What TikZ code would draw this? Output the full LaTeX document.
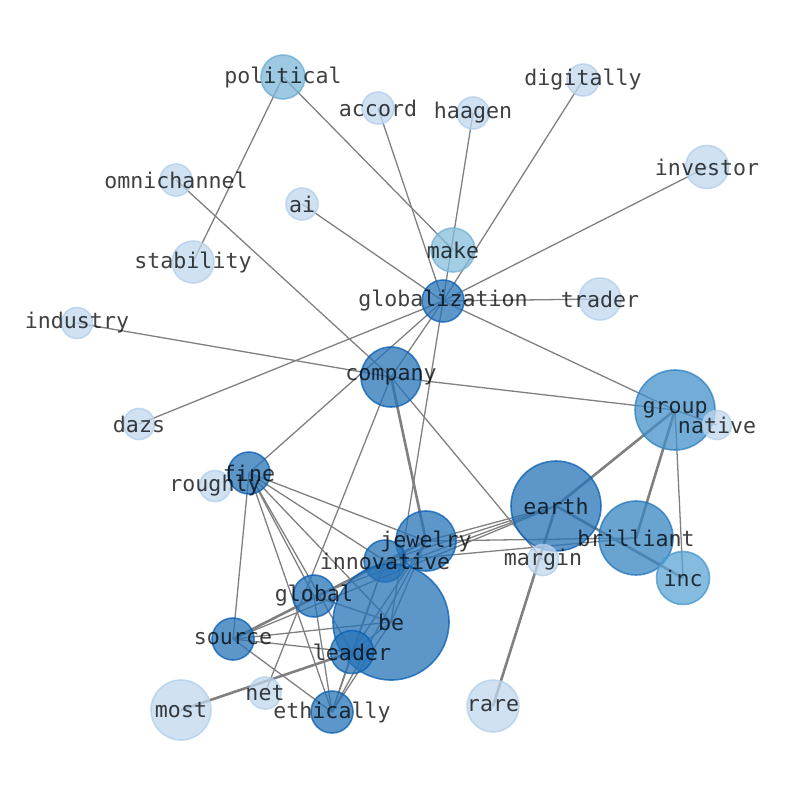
\documentclass[tikz,border=0pt]{standalone}
\usepackage{fontspec}
\newfontfamily\lblfont{DejaVu Sans Mono}
\definecolor{cA}{RGB}{39,115,183}
\definecolor{cAd}{RGB}{10,95,178}
\definecolor{cG}{RGB}{68,144,200}
\definecolor{cGd}{RGB}{45,128,195}
\definecolor{cB}{RGB}{55,133,194}
\definecolor{cBd}{RGB}{35,118,190}
\definecolor{cI}{RGB}{91,164,212}
\definecolor{cId}{RGB}{70,150,205}
\definecolor{cM}{RGB}{132,190,219}
\definecolor{cMd}{RGB}{115,178,214}
\definecolor{cP}{RGB}{124,184,216}
\definecolor{cPd}{RGB}{105,172,212}
\definecolor{cL}{RGB}{192,216,238}
\definecolor{cLd}{RGB}{178,206,234}
\definecolor{edgegray}{RGB}{128,128,128}
\begin{document}
\begin{tikzpicture}[x=1pt,y=-1pt,
  bub/.style={circle, inner sep=0pt, minimum size=#1, line width=1.6pt, opacity=0.75},
  dk/.style={fill=cA, draw=cAd},
  gr/.style={fill=cG, draw=cGd},
  br/.style={fill=cB, draw=cBd},
  ic/.style={fill=cI, draw=cId},
  mk/.style={fill=cM, draw=cMd},
  po/.style={fill=cP, draw=cPd},
  lt/.style={fill=cL, draw=cLd},
  lbl/.style={font=\lblfont\fontsize{21.6}{24}\selectfont, text=black, text opacity=0.75, inner sep=0pt},
  edge/.style={draw=edgegray, line width=1.3pt},
  thick edge/.style={draw=edgegray, line width=2.6pt}
]
\useasboundingbox (0,0) rectangle (794,790);
% coordinates
\coordinate (political) at (283,77);
\coordinate (accord) at (378,108);
\coordinate (haagen) at (473,113);
\coordinate (digitally) at (583,80);
\coordinate (investor) at (707,167);
\coordinate (omnichannel) at (176,180);
\coordinate (ai) at (302,204);
\coordinate (stability) at (193,262);
\coordinate (make) at (453,250);
\coordinate (glob) at (443,301);
\coordinate (trader) at (600,299);
\coordinate (industry) at (77,323);
\coordinate (company) at (391,377);
\coordinate (dazs) at (139,424);
\coordinate (group) at (675,410);
\coordinate (native) at (717,425);
\coordinate (fine) at (249,473);
\coordinate (roughly) at (215,486);
\coordinate (earth) at (556,506);
\coordinate (brilliant) at (636,538);
\coordinate (jewelry) at (426,541);
\coordinate (innovative) at (385,561);
\coordinate (margin) at (543,560);
\coordinate (inc) at (683,578);
\coordinate (global) at (314,596);
\coordinate (be) at (391,622);
\coordinate (source) at (233,639);
\coordinate (leader) at (352,652);
\coordinate (net) at (265,693);
\coordinate (most) at (181,710);
\coordinate (rare) at (493,706);
\coordinate (ethically) at (332,712);
% edges
\foreach \a/\b in {political/stability, political/make, accord/glob, haagen/glob,
  digitally/glob, investor/glob, ai/glob, trader/glob, dazs/glob, fine/glob,
  glob/be, glob/group, glob/company, omnichannel/company, industry/company,
  company/group, company/margin, net/company, group/inc, group/native,
  brilliant/jewelry, brilliant/innovative,
  fine/source, fine/ethically, fine/global, fine/leader, fine/be, fine/jewelry, fine/innovative,
  source/earth, source/be, source/leader, source/ethically,
  global/be, global/earth, global/ethically,
  leader/be, leader/innovative, leader/jewelry, leader/ethically,
  ethically/be, ethically/innovative, ethically/jewelry,
  innovative/earth, innovative/jewelry, jewelry/earth, be/jewelry}
  \draw[edge] (\a) -- (\b);
\foreach \a/\b in {group/earth, group/brilliant, earth/inc, earth/rare,
  company/jewelry, source/jewelry, most/leader}
  \draw[thick edge] (\a) -- (\b);
% bubbles
\node[bub=44, po] (political-c) at (political) {};
\node[bub=32, lt] (accord-c) at (accord) {};
\node[bub=32, lt] (haagen-c) at (haagen) {};
\node[bub=32, lt] (digitally-c) at (digitally) {};
\node[bub=43, lt] (investor-c) at (investor) {};
\node[bub=32, lt] (omnichannel-c) at (omnichannel) {};
\node[bub=32, lt] (ai-c) at (ai) {};
\node[bub=42, lt] (stability-c) at (stability) {};
\node[bub=44, mk] (make-c) at (make) {};
\node[bub=42, dk] (glob-c) at (glob) {};
\node[bub=42, lt] (trader-c) at (trader) {};
\node[bub=31, lt] (industry-c) at (industry) {};
\node[bub=60, dk] (company-c) at (company) {};
\node[bub=31, lt] (dazs-c) at (dazs) {};
\node[bub=80, gr] (group-c) at (group) {};
\node[bub=29, lt] (native-c) at (native) {};
\node[bub=31, lt] (roughly-c) at (roughly) {};
\node[bub=42, dk] (fine-c) at (fine) {};
\node[bub=90, dk] (earth-c) at (earth) {};
\node[bub=74, br] (brilliant-c) at (brilliant) {};
\node[bub=60, dk] (jewelry-c) at (jewelry) {};
\node[bub=42, dk] (innovative-c) at (innovative) {};
\node[bub=31, lt] (margin-c) at (margin) {};
\node[bub=53, ic] (inc-c) at (inc) {};
\node[bub=42, dk] (global-c) at (global) {};
\node[bub=116, dk] (be-c) at (be) {};
\node[bub=42, dk] (source-c) at (source) {};
\node[bub=43, dk] (leader-c) at (leader) {};
\node[bub=32, lt] (net-c) at (net) {};
\node[bub=60, lt] (most-c) at (most) {};
\node[bub=52, lt] (rare-c) at (rare) {};
\node[bub=42, dk] (ethically-c) at (ethically) {};
% labels
\node[lbl] (political-t) at (political) {political};
\node[lbl] (accord-t) at (accord) {accord};
\node[lbl] (haagen-t) at (haagen) {haagen};
\node[lbl] (digitally-t) at (digitally) {digitally};
\node[lbl] (investor-t) at (investor) {investor};
\node[lbl] (omnichannel-t) at (omnichannel) {omnichannel};
\node[lbl] (ai-t) at (ai) {ai};
\node[lbl] (stability-t) at (stability) {stability};
\node[lbl] (make-t) at (make) {make};
\node[lbl] (glob-t) at (glob) {globalization};
\node[lbl] (trader-t) at (trader) {trader};
\node[lbl] (industry-t) at (industry) {industry};
\node[lbl] (company-t) at (company) {company};
\node[lbl] (dazs-t) at (dazs) {dazs};
\node[lbl] (group-t) at (group) {group};
\node[lbl] (native-t) at (native) {native};
\node[lbl] (roughly-t) at (roughly) {roughly};
\node[lbl] (fine-t) at (fine) {fine};
\node[lbl] (earth-t) at (earth) {earth};
\node[lbl] (brilliant-t) at (brilliant) {brilliant};
\node[lbl] (jewelry-t) at (jewelry) {jewelry};
\node[lbl] (innovative-t) at (innovative) {innovative};
\node[lbl] (margin-t) at (margin) {margin};
\node[lbl] (inc-t) at (inc) {inc};
\node[lbl] (global-t) at (global) {global};
\node[lbl] (be-t) at (be) {be};
\node[lbl] (source-t) at (source) {source};
\node[lbl] (leader-t) at (leader) {leader};
\node[lbl] (net-t) at (net) {net};
\node[lbl] (most-t) at (most) {most};
\node[lbl] (rare-t) at (rare) {rare};
\node[lbl] (ethically-t) at (ethically) {ethically};
\end{tikzpicture}
\end{document}
